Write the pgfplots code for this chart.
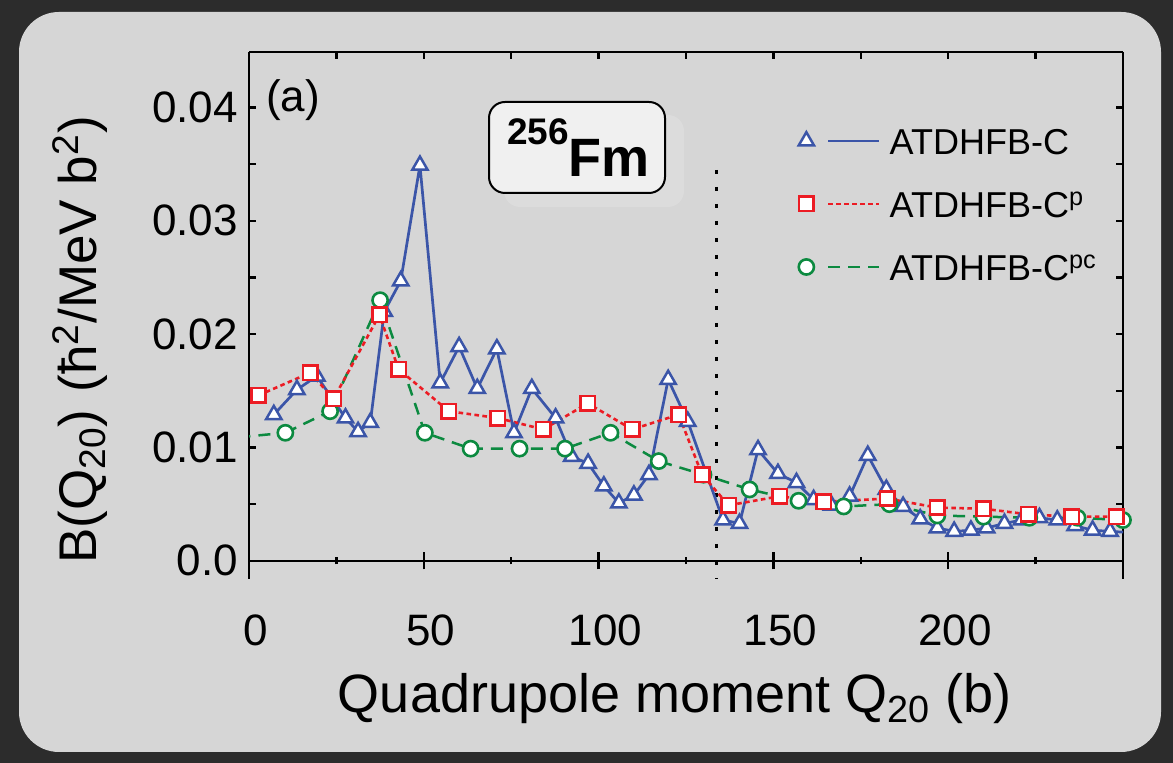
\documentclass[border=0pt]{standalone}
\usepackage{fontspec}
\setmainfont{Liberation Sans}
\usepackage{pgfplots}
\pgfplotsset{compat=1.18}
\definecolor{cB}{HTML}{3B55A8}
\definecolor{cR}{HTML}{EC1C24}
\definecolor{cG}{HTML}{0C8A40}
\definecolor{panel}{HTML}{D6D6D6}
\definecolor{darkbg}{HTML}{2C2C2C}
\definecolor{boxfill}{HTML}{F0F0F0}
\definecolor{shadow}{HTML}{DCDCDC}
\pgfplotsset{
  bstyle/.style={color=cB, line width=1.35pt, mark=triangle*, mark size=4.4pt,
    mark options={solid, fill=white, line width=1.25pt}},
  rstyle/.style={color=cR, line width=1.3pt, dash pattern=on 2.3pt off 1.7pt, mark=square*, mark size=3.6pt,
    mark options={solid, fill=white, line width=1.3pt}},
  gstyle/.style={color=cG, line width=1.25pt, dash pattern=on 6pt off 4pt, mark=*, mark size=3.8pt,
    mark options={solid, fill=white, line width=1.3pt}},
}
\begin{document}
\begin{tikzpicture}
\path[use as bounding box] (0,0) rectangle (586.5pt,381.5pt);
\fill[darkbg] (0,0) rectangle (586.5pt,381.5pt);
\fill[panel, rounded corners=20pt] (9.5pt,5.5pt) rectangle (580.5pt,375.5pt);
% label box
\fill[shadow, rounded corners=8pt] (252pt,324pt) rectangle (342pt,278pt);
\draw[line width=1pt, fill=boxfill, rounded corners=8pt] (244.5pt,330.5pt) rectangle (332.5pt,285pt);
\node[anchor=base west, inner sep=0pt, font=\fontsize{18.5}{20}\selectfont\bfseries] at (253.5pt,309pt) {256};
\node[anchor=base west, inner sep=0pt, font=\fontsize{27}{30}\selectfont\bfseries] at (284pt,293pt) {Fm};

\begin{axis}[
  at={(124.5pt,92pt)}, anchor=south west, width=437pt, height=263.5pt, scale only axis,
  xmin=0, xmax=250, ymin=-0.0016, ymax=0.0449,
  axis x line=top, axis y line=box,
  axis line style={line width=1.2pt, -},
  tick style={line width=1.2pt, black},
  tick align=inside, major tick length=3.5pt, minor tick length=3.5pt,
  xtick={0,25,...,250}, xticklabels={},
  ytick={0,0.01,0.02,0.03,0.04}, yticklabels={0.0,0.01,0.02,0.03,0.04},
  minor ytick={0.005,0.015,0.025,0.035},
  scaled y ticks=false,
  /pgf/number format/assume math mode=true,
  yticklabel style={font=\fontsize{22}{24}\selectfont, xshift=-2pt},
  ylabel={B(Q\textsubscript{20})\hspace{0.33em}(ħ\textsuperscript{2}/MeV b\textsuperscript{2})},
  ylabel style={at={(axis description cs:-0.1934,0.4535)}, anchor=center, font=\fontsize{26.5}{28}\selectfont},
  clip=true,
  legend style={at={(rel axis cs:0.6290,0.8577)}, anchor=north west, draw=none, fill=none,
    inner sep=0pt, outer sep=0pt, row sep=17.5pt, column sep=4.5pt,
    font=\fontsize{18}{20}\selectfont, nodes={inner sep=0pt, text height=14pt, text depth=0pt}},
  legend cell align=left,
  legend image code/.code={
    \draw[#1, mark=none] (11pt,0pt) -- (36.5pt,0pt);
    \draw[#1] plot coordinates {(0pt,0pt)};
  },
]
\draw[black, line width=1.2pt, dash pattern=on 2pt off 6.5pt] (axis cs:133.7,0.0345) -- (axis cs:133.7,-0.0016);
\node[font=\fontsize{22}{24}\selectfont] at (rel axis cs:0.0503,0.909) {(a)};

\addplot[bstyle] coordinates {
(7.1,0.0129) (13.7,0.0151) (19.4,0.0163) (27.6,0.0126) (31.2,0.0114) (34.7,0.0122)
(38.7,0.0220) (43.4,0.0247) (48.9,0.0349) (54.7,0.0157) (60.1,0.0189) (65.3,0.0152)
(70.9,0.0187) (75.8,0.0113) (80.9,0.0152) (87.7,0.0126) (92.3,0.0092) (97.0,0.0086)
(101.5,0.0066) (105.8,0.0051) (110.1,0.0058) (114.4,0.0076) (119.9,0.0160) (125.5,0.0123)
(135.6,0.0036) (140.3,0.0033) (145.6,0.0098) (151.3,0.0077) (156.6,0.0069) (161.5,0.0054)
(166.6,0.0049) (171.8,0.0057) (177.0,0.0093) (182.3,0.0063) (187.1,0.0048) (192.0,0.0037)
(196.9,0.0029) (201.7,0.0026) (206.5,0.0027) (211.0,0.0029) (216.1,0.0033) (221.0,0.0036)
(226.1,0.0038) (231.2,0.0036) (236.3,0.0031) (241.3,0.0027) (246.3,0.0026)
};
\addlegendentry{ATDHFB-C}
\addplot[cB, line width=1.35pt, forget plot] coordinates {(246.3,0.0026) (252,0.0025)};
\addplot[gstyle, mark=none, forget plot] coordinates {(-3,0.0109) (10.4,0.0113)};
\addplot[gstyle, forget plot] coordinates {
(10.4,0.0113) (23.2,0.0132) (37.5,0.0230) (50.3,0.0113) (63.4,0.0099) (77.4,0.0099)
(90.4,0.0099) (103.4,0.0113) (117.2,0.0088) (130.0,0.0076) (143.2,0.0063) (157.2,0.0053)
(170.1,0.0048) (183.2,0.0050) (196.9,0.0040) (210.1,0.0039) (223.2,0.0038) (237.0,0.0038)
(250.0,0.0036)
};
\addplot[rstyle] coordinates {
(2.7,0.0146) (17.5,0.0166) (24.2,0.0143) (37.3,0.0217) (42.8,0.0169) (57.2,0.0132)
(71.2,0.0126) (84.2,0.0116) (96.9,0.0139) (109.6,0.0116) (122.9,0.0129) (129.6,0.0076)
(137.2,0.0049) (151.8,0.0057) (164.4,0.0052) (182.5,0.0055) (196.8,0.0047) (210.1,0.0046)
(222.9,0.0041) (235.3,0.0039) (248.0,0.0039)
};
\addlegendentry{ATDHFB-C\textsuperscript{p}}
\addlegendimage{gstyle}
\addlegendentry{ATDHFB-C\textsuperscript{pc}}
\end{axis}

\begin{axis}[
  at={(124.5pt,101pt)}, anchor=south west, width=437pt, height=10pt, scale only axis,
  xmin=0, xmax=250, ymin=0, ymax=1,
  axis x line=bottom, axis y line=none,
  axis line style={line width=1.2pt, -},
  tick style={line width=1.2pt, black},
  tick align=center, major tick length=8.5pt, minor tick length=3.5pt,
  xtick={0,50,100,150,200}, minor xtick={25,75,125,175,225},
  /pgf/number format/assume math mode=true,
  xticklabel style={font=\fontsize{22}{24}\selectfont, yshift=-19pt, xshift=3.5pt},
  xlabel={Quadrupole moment Q\textsubscript{20} (b)},
  xlabel style={at={(axis description cs:0.487,0)}, anchor=base, yshift=-76pt, font=\fontsize{27}{29}\selectfont},
]
\end{axis}
\end{tikzpicture}
\end{document}
